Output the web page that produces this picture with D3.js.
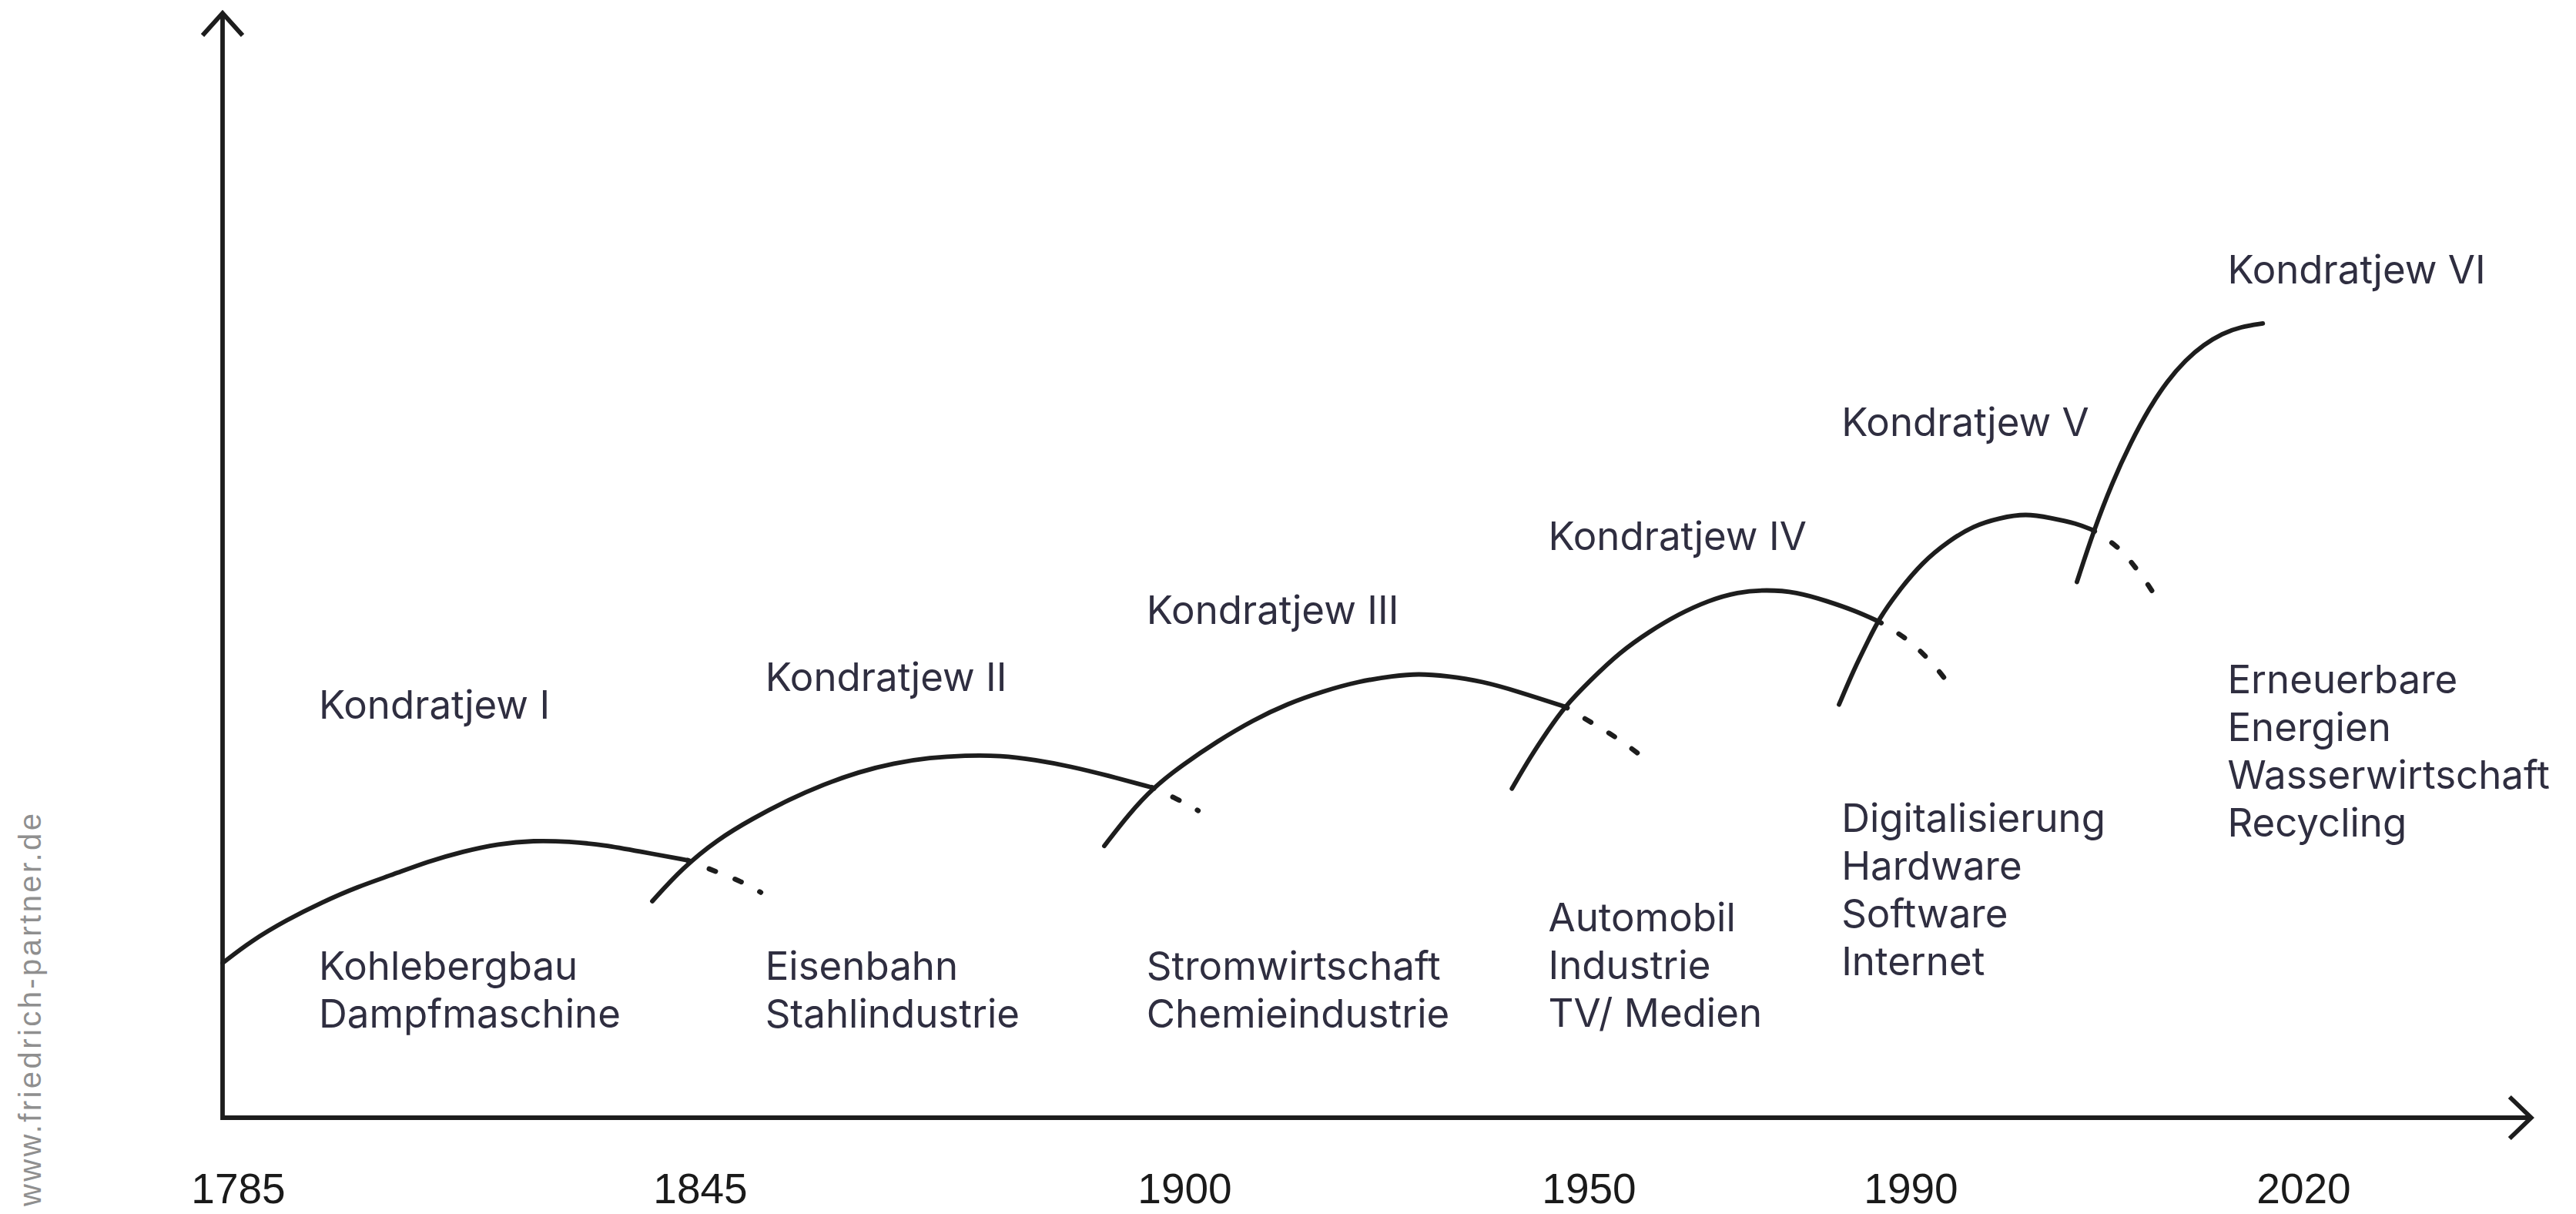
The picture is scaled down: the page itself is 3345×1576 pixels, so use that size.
<!DOCTYPE html>
<html lang="de">
<head>
<meta charset="utf-8">
<title>Kondratjew-Zyklen</title>
<script src="https://cdn.jsdelivr.net/npm/d3@7"></script>
<style>
  body { margin: 0; background: #fff; }
  .wave { fill: none; stroke: #1d1d1d; stroke-width: 5.8; stroke-linecap: round; }
  .tail { fill: none; stroke: #1d1d1d; stroke-width: 6.5; stroke-linecap: round; stroke-dasharray: 9 27; stroke-dashoffset: 6; }
  .axis-line { fill: none; stroke: #1d1d1d; stroke-width: 5.8; stroke-linejoin: miter; }
  .label { font-family: Inter, "Noto Sans", sans-serif; font-size: 51px; fill: #2f2e40; }
  .x-axis .tick text { font-family: "Liberation Sans", Arial, sans-serif; font-size: 55px; fill: #1a1a1a; }
  .watermark { font-family: "Liberation Sans", Arial, sans-serif; font-size: 40px; fill: #8f8f8f; }
</style>
</head>
<body>
<div id="chart"></div>
<script>
// tick labels on the time axis
const years = [1785, 1845, 1900, 1950, 1990, 2020];

const waveNames = ["Kondratjew I", "Kondratjew II", "Kondratjew III", "Kondratjew IV", "Kondratjew V", "Kondratjew VI"];
const waveTopics = [
    ["Kohlebergbau", "Dampfmaschine"],
    ["Eisenbahn", "Stahlindustrie"],
    ["Stromwirtschaft", "Chemieindustrie"],
    ["Automobil", "Industrie", "TV/ Medien"],
    ["Digitalisierung", "Hardware", "Software", "Internet"],
    ["Erneuerbare", "Energien", "Wasserwirtschaft", "Recycling"]
];

// where each wave's texts sit, in chart units (year / level 0-100)
const labelYear = [1795.5, 1852.4, 1895.7, 1945.0, 1981.4, 2014.2];
const nameLevel = [36.1, 38.6, 44.7, 51.4, 61.7, 75.5];
const topicLevel = [12.5, 12.5, 12.5, 16.9, 25.9, 38.4];

// waves: [year, level]
const wave1 = [[1783.0, 14.0], [1786.7, 16.0], [1791.3, 17.9], [1795.9, 19.5], [1800.5, 20.9], [1805.1, 22.0], [1809.7, 23.2],
    [1814.2, 24.1], [1818.8, 24.8], [1823.4, 25.1], [1828.0, 25.0], [1832.6, 24.7], [1837.2, 24.1], [1843.4, 23.3]];
const wave1Tail = [[1843.4, 23.3], [1845.8, 22.6], [1850.0, 21.3], [1851.9, 20.4]];

const wave2 = [[1838.8, 19.6], [1842.7, 22.6], [1847.0, 25.2], [1851.0, 27.1], [1855.1, 28.8], [1859.1, 30.2], [1863.0, 31.3],
    [1867.0, 32.1], [1871.1, 32.6], [1875.1, 32.8], [1879.1, 32.8], [1883.1, 32.4], [1887.1, 31.8], [1891.2, 31.0], [1896.3, 29.9]];
const wave2Tail = [[1896.3, 29.9], [1899.1, 28.9], [1901.7, 27.8]];

const wave3 = [[1890.9, 24.6], [1893.7, 27.5], [1896.5, 29.9], [1899.7, 31.9], [1904.1, 34.1], [1908.5, 36.0], [1912.8, 37.5],
    [1917.1, 38.6], [1921.5, 39.5], [1925.9, 40.0], [1928.9, 40.2], [1932.5, 40.0], [1936.9, 39.5], [1941.2, 38.6], [1947.1, 37.2]];
const wave3Tail = [[1947.1, 37.2], [1949.1, 36.3], [1951.7, 35.2], [1954.3, 34.0], [1956.8, 32.6]];

const wave4 = [[1940.5, 29.8], [1942.9, 32.8], [1945.0, 35.1], [1947.0, 37.2], [1950.2, 39.6], [1953.8, 42.1], [1957.5, 44.0],
    [1961.2, 45.6], [1964.8, 46.8], [1968.5, 47.6], [1972.1, 47.8], [1975.8, 47.6], [1979.5, 46.8], [1983.1, 45.9], [1986.1, 44.9]];
const wave4Tail = [[1986.1, 44.9], [1989.3, 43.5], [1990.9, 42.1], [1992.3, 40.3], [1993.3, 38.6]];

const wave5 = [[1981.1, 37.4], [1982.9, 40.5], [1984.8, 43.3], [1986.1, 45.2], [1988.3, 47.5], [1990.9, 50.3], [1992.9, 52.2],
    [1994.8, 53.6], [1996.8, 54.3], [1998.8, 54.7], [2000.7, 54.3], [2002.7, 53.8], [2003.9, 53.2]];
const wave5Tail = [[2003.9, 53.2], [2005.8, 51.8], [2007.0, 50.1], [2008.2, 48.2], [2009.2, 46.2]];

const wave6 = [[2002.7, 48.5], [2004.0, 53.2], [2005.4, 57.5], [2006.8, 61.1], [2008.2, 64.2], [2009.6, 66.7],
    [2011.0, 68.6], [2012.4, 70.0], [2013.8, 71.0], [2015.2, 71.6], [2016.9, 71.9]];

const waves = [wave1, wave2, wave3, wave4, wave5, wave6];
const tails = [wave1Tail, wave2Tail, wave3Tail, wave4Tail, wave5Tail];

const width = 3345, height = 1576;
const axisStart = 1783, axisEnd = 2037.4;

const svg = d3.select("#chart").append("svg")
    .attr("width", width)
    .attr("height", height);

// the years are not evenly spaced on the original axis, so the scale is piecewise
const x = d3.scaleLinear().domain(years).range([309, 909, 1538, 2063, 2481, 2991]);
const y = d3.scaleLinear().domain([0, 100]).range([1451, 17]);

// Axes with open arrow heads
const x0 = x(axisStart), xEnd = x(axisEnd), y0 = y(0), yTop = y(100);
svg.append("path")
    .attr("class", "axis-line")
    .attr("d", `M${x0},${yTop}L${x0},${y0}L${xEnd},${y0}`);
svg.append("path")
    .attr("class", "axis-line")
    .attr("d", `M${x0 - 26},${yTop + 29}L${x0},${yTop}L${x0 + 26},${yTop + 29}`);
svg.append("path")
    .attr("class", "axis-line")
    .attr("d", `M${xEnd - 28},${y0 - 27}L${xEnd},${y0}L${xEnd - 28},${y0 + 27}`);

const xAxis = d3.axisBottom(x)
    .tickValues(years)
    .tickFormat(d3.format("d"))
    .tickSize(0)
    .tickPadding(72);
svg.append("g")
    .attr("class", "x-axis")
    .attr("transform", "translate(0," + y0 + ")")
    .call(xAxis)
    .call(g => g.select(".domain").remove());

// Waves (basis smoothing irons out the reading error of the points)
const line = d3.line()
    .x(d => x(d[0]))
    .y(d => y(d[1]))
    .curve(d3.curveBasis);

svg.selectAll(".wave")
    .data(waves)
    .enter()
    .append("path")
    .attr("class", "wave")
    .attr("d", line);

svg.selectAll(".tail")
    .data(tails)
    .enter()
    .append("path")
    .attr("class", "tail")
    .attr("d", line);

// Wave names
svg.selectAll(".name")
    .data(waveNames)
    .enter()
    .append("text")
    .attr("class", "label name")
    .attr("x", (d, i) => x(labelYear[i]))
    .attr("y", (d, i) => y(nameLevel[i]))
    .text(d => d);

// Key industries of each wave
const topics = svg.selectAll(".topic")
    .data(waveTopics)
    .enter()
    .append("text")
    .attr("class", "label topic")
    .attr("x", (d, i) => x(labelYear[i]))
    .attr("y", (d, i) => y(topicLevel[i]));

topics.each(function (lines, i) {
    d3.select(this).selectAll("tspan")
        .data(lines)
        .enter()
        .append("tspan")
        .attr("x", x(labelYear[i]))
        .attr("dy", (d, j) => j === 0 ? 0 : 62)
        .text(d => d);
});

// source note on the left edge
svg.append("text")
    .attr("class", "watermark")
    .attr("transform", "translate(53,1566) rotate(-90)")
    .attr("textLength", 510)
    .attr("lengthAdjust", "spacing")
    .text("www.friedrich-partner.de");
</script>
</body>
</html>
